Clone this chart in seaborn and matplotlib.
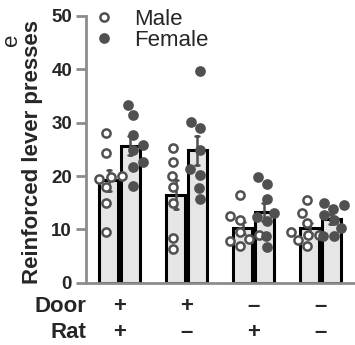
import matplotlib
matplotlib.use('Agg')
import matplotlib.pyplot as plt
import matplotlib.transforms as mtransforms
from matplotlib.lines import Line2D
import seaborn as sns
import pandas as pd
import numpy as np

# Данные
groups = ['D+R+', 'D+R-', 'D-R+', 'D-R-']
door_signs = ['+', '+', '–', '–']
rat_signs = ['+', '–', '+', '–']
sexes = ['Male', 'Female']

male_g1 = [28.0, 24.3, 20.0, 19.8, 19.5, 18.0, 14.9, 9.6]
female_g1 = [33.3, 31.5, 27.7, 25.8, 24.9, 22.7, 21.7, 18.2]
male_g2 = [25.2, 22.7, 20.0, 18.0, 14.9, 8.4, 6.3]
female_g2 = [39.6, 30.2, 29.0, 24.8, 21.3, 20.2, 17.7, 15.7]
male_g3 = [16.5, 12.5, 11.8, 9.5, 9.0, 8.3, 7.8, 7.0]
female_g3 = [19.8, 18.5, 15.8, 13.0, 12.3, 11.5, 8.7, 6.7]
male_g4 = [15.5, 13.0, 11.2, 9.6, 9.0, 9.0, 8.1, 6.9]
female_g4 = [15.0, 14.6, 13.8, 12.7, 11.8, 10.2, 8.7, 8.7]

values = {
    ('D+R+', 'Male'): male_g1, ('D+R+', 'Female'): female_g1,
    ('D+R-', 'Male'): male_g2, ('D+R-', 'Female'): female_g2,
    ('D-R+', 'Male'): male_g3, ('D-R+', 'Female'): female_g3,
    ('D-R-', 'Male'): male_g4, ('D-R-', 'Female'): female_g4,
}

rows = []
for (g, s), vals in values.items():
    for v in vals:
        rows.append({'group': g, 'sex': s, 'presses': v})
df = pd.DataFrame(rows)

sns.set_theme(style='ticks')
plt.rcParams['font.family'] = ['Liberation Sans', 'DejaVu Sans']

dark = '#505050'
axis_gray = '#8c8c8c'
lab_fs = 16
tick_fs = 13.5
msize = 5.9

fig = plt.figure(figsize=(3.55, 3.45), dpi=100)
ax = fig.add_axes([0.242, 0.180, 0.755, 0.774])

sns.barplot(data=df, x='group', y='presses', hue='sex', order=groups, hue_order=sexes,
            palette=['#e6e6e6', '#e6e6e6'], width=0.64, gap=0.12,
            edgecolor='black', linewidth=2.2, errorbar='se', capsize=0.12,
            err_kws={'color': dark, 'linewidth': 1.8}, legend=False, ax=ax)

n_before = len(ax.collections)
# раскладка роя с меньшим размером, потом маркеры увеличиваются (перекрытие как в оригинале)
sns.swarmplot(data=df, x='group', y='presses', hue='sex', order=groups, hue_order=sexes,
              palette=[dark, dark], dodge=True, size=3.6, linewidth=1.8,
              edgecolor=dark, legend=False, ax=ax)

for coll in ax.collections[n_before:]:
    offs = coll.get_offsets()
    if len(offs) == 0:
        continue
    xm = np.mean(offs[:, 0])
    if xm < np.round(xm):
        coll.set_facecolor('white')
    else:
        coll.set_facecolor(dark)
    coll.set_edgecolor(dark)
    coll.set_sizes([msize ** 2])
    coll.set_zorder(4)

ax.set_xlim(-0.5, 3.5)
ax.set_ylim(0, 50)
ax.set_yticks([0, 10, 20, 30, 40, 50])
ax.set_xticks([])
ax.set_xlabel('')
ax.set_ylabel('Reinforced lever presses', fontsize=lab_fs, fontweight='bold')
ax.yaxis.set_label_coords(-0.16, 0.49)
for lab in ax.get_yticklabels():
    lab.set_fontweight('bold')
    lab.set_fontsize(tick_fs)
ax.tick_params(axis='y', color=axis_gray, width=2, length=7, pad=3)
for side in ['top', 'right']:
    ax.spines[side].set_visible(False)
for side in ['left', 'bottom']:
    ax.spines[side].set_color(axis_gray)
    ax.spines[side].set_linewidth(2)

# Подписи Door / Rat
trans = mtransforms.blended_transform_factory(ax.transData, ax.transAxes)
ax.text(-0.5, -0.09, 'Door', transform=trans, ha='right', va='center',
        fontsize=lab_fs, fontweight='bold')
ax.text(-0.5, -0.185, 'Rat', transform=trans, ha='right', va='center',
        fontsize=lab_fs, fontweight='bold')
for i, g in enumerate(groups):
    ax.text(i, -0.09, door_signs[i], transform=trans, ha='center', va='center',
            fontsize=lab_fs, fontweight='bold')
    ax.text(i, -0.185, rat_signs[i], transform=trans, ha='center', va='center',
            fontsize=lab_fs, fontweight='bold')

# Легенда
handles = [Line2D([], [], marker='o', linestyle='', markersize=msize, markeredgewidth=1.8,
                  markerfacecolor='white', markeredgecolor=dark),
           Line2D([], [], marker='o', linestyle='', markersize=msize, markeredgewidth=1.8,
                  markerfacecolor=dark, markeredgecolor=dark)]
ax.legend(handles, sexes, loc='upper left', bbox_to_anchor=(0.0, 1.06), frameon=False,
          fontsize=lab_fs, handlelength=0.8, handletextpad=0.95, labelspacing=0.0,
          borderaxespad=0.0)

# надпись соседней панели у левого края
fig.text(0.003, 0.885, 'e', rotation=90, fontsize=lab_fs, ha='left', va='center')

fig.savefig('out.png', dpi=100)
